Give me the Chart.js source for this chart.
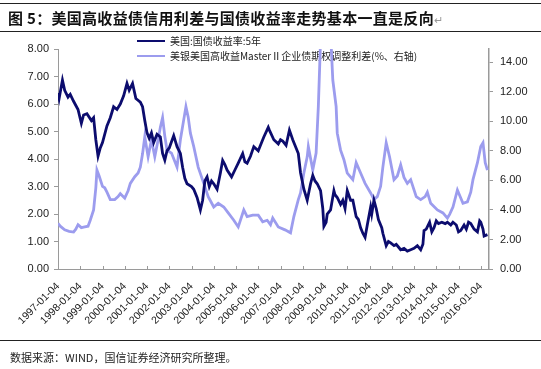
<!DOCTYPE html>
<html>
<head>
<meta charset="utf-8">
<script src="https://cdn.jsdelivr.net/npm/chart.js@4.4.0/dist/chart.umd.min.js"></script>
<style>
  body { margin: 0; background: #fff; }
  #wrap { position: relative; width: 541px; height: 369px; overflow: hidden; }
  #c { position: absolute; left: 0; top: 0; }
  .rule { position: absolute; left: 0; width: 541px; height: 0; border-top: 1.5px solid #222; }
  #title { position: absolute; left: 8px; top: 7px; font: bold 15px "Noto Sans CJK SC", sans-serif; letter-spacing: 0.3px; color: #111; white-space: nowrap; }
  #title span { font-weight: normal; font-size: 11px; color: #999; }
  #foot { position: absolute; left: 10px; top: 349px; font: 11px "Noto Sans CJK SC", sans-serif; color: #222; white-space: nowrap; }
</style>
</head>
<body>
<div id="wrap">
  <canvas id="c" width="541" height="369"></canvas>
  <div class="rule" style="top:3px"></div>
  <div id="title">图 5：美国高收益债信用利差与国债收益率走势基本一直是反向<span>↵</span></div>
  <div class="rule" style="top:31px"></div>
  <div class="rule" style="top:340px"></div>
  <div id="foot">数据来源：WIND，国信证券经济研究所整理。</div>
</div>
<script>
// 美国:国债收益率:5年 (left axis), time as decimal year
var yieldDates = [1997.0, 1997.05, 1997.2, 1997.3, 1997.45, 1997.55, 1997.7, 1997.9, 1998.05, 1998.15, 1998.3, 1998.5, 1998.6, 1998.7, 1998.8, 1998.9,
  1999.0, 1999.2, 1999.35, 1999.5, 1999.65, 1999.8, 1999.95, 2000.1, 2000.2, 2000.35, 2000.5, 2000.7, 2000.8, 2000.9,
  2001.0, 2001.1, 2001.2, 2001.3, 2001.45, 2001.6, 2001.7, 2001.8, 2001.9, 2002.0, 2002.2, 2002.35, 2002.5, 2002.6, 2002.7, 2002.8,
  2003.0, 2003.1, 2003.25, 2003.4, 2003.5, 2003.6, 2003.7, 2003.8, 2003.9, 2004.0, 2004.15, 2004.3, 2004.4, 2004.5, 2004.6, 2004.8, 2004.95,
  2005.1, 2005.3, 2005.4, 2005.5, 2005.65, 2005.8, 2006.0, 2006.15, 2006.25, 2006.45, 2006.5, 2006.7, 2006.9,
  2007.0, 2007.1, 2007.25, 2007.4, 2007.55, 2007.7, 2007.8, 2007.9, 2008.05, 2008.2, 2008.35, 2008.45, 2008.55, 2008.65, 2008.8, 2008.9, 2008.95,
  2009.05, 2009.1, 2009.25, 2009.4, 2009.45, 2009.55, 2009.7, 2009.8, 2009.9, 2010.0, 2010.15, 2010.25, 2010.4, 2010.5, 2010.6, 2010.7, 2010.8, 2010.9,
  2011.05, 2011.1, 2011.2, 2011.3, 2011.4, 2011.55, 2011.6, 2011.75, 2011.85, 2011.95, 2012.1, 2012.2, 2012.3, 2012.4, 2012.55, 2012.7, 2012.85,
  2013.0, 2013.15, 2013.3, 2013.4, 2013.45, 2013.55, 2013.7, 2013.8, 2013.9, 2014.0, 2014.1, 2014.25, 2014.4, 2014.5, 2014.65, 2014.75, 2014.9,
  2015.0, 2015.1, 2015.25, 2015.35, 2015.45, 2015.55, 2015.7, 2015.85, 2015.95, 2016.0, 2016.1, 2016.15, 2016.3];
var yieldValues = [6.4, 6.2, 6.87, 6.5, 6.25, 6.35, 6.1, 5.8, 5.3, 5.6, 5.65, 5.4, 5.5, 4.7, 4.1, 4.4,
  4.6, 5.2, 5.5, 5.9, 5.8, 6.0, 6.3, 6.75, 6.5, 6.75, 6.2, 6.07, 5.9, 5.4,
  4.95, 4.75, 4.95, 4.6, 4.9, 4.8, 4.2, 3.96, 4.3, 4.4, 4.85, 4.45, 4.2, 3.7, 3.3, 3.1,
  3.0, 2.9, 2.6, 2.15, 2.5, 3.2, 3.35, 3.0, 3.2, 3.1, 2.9, 3.5, 3.95, 3.8, 3.6, 3.35, 3.6,
  3.85, 4.2, 3.9, 3.85, 4.1, 4.45, 4.3, 4.6, 4.8, 5.15, 5.05, 4.7, 4.55,
  4.7, 4.65, 4.5, 5.05, 4.7, 4.4, 4.2, 3.5, 2.9, 2.5, 3.1, 3.4, 3.2, 3.1, 2.85, 2.2, 1.55,
  1.7, 2.0, 2.15, 2.85, 2.7, 2.6, 2.35, 2.5, 2.2, 2.85, 2.5, 2.5, 1.9, 1.8, 1.5, 1.3, 1.15, 1.6,
  2.25, 2.0, 2.5, 2.2, 1.8, 1.5, 1.3, 0.85, 1.0, 0.95, 0.85, 0.9, 0.8, 0.7, 0.75, 0.65, 0.7,
  0.75, 0.85, 0.7, 0.9, 1.4, 1.45, 1.7, 1.35, 1.5, 1.75, 1.65, 1.7, 1.65, 1.7, 1.6, 1.7, 1.6,
  1.35, 1.4, 1.6, 1.45, 1.7, 1.65, 1.45, 1.35, 1.75, 1.7, 1.45, 1.2, 1.25];

// 美银美国高收益Master II企业债期权调整利差 (right axis)
var spreadDates = [1997.0, 1997.1, 1997.3, 1997.5, 1997.7, 1997.8, 1997.9, 1998.05, 1998.2, 1998.35, 1998.45, 1998.6, 1998.7, 1998.75, 1998.85,
  1999.0, 1999.1, 1999.2, 1999.35, 1999.55, 1999.7, 1999.8, 2000.0, 2000.15, 2000.25, 2000.45, 2000.6, 2000.7, 2000.8, 2000.9,
  2001.05, 2001.2, 2001.35, 2001.5, 2001.6, 2001.7, 2001.8, 2001.9, 2002.1, 2002.35, 2002.5, 2002.65, 2002.75, 2002.85, 2002.95,
  2003.1, 2003.3, 2003.55, 2003.75, 2004.0, 2004.2, 2004.45, 2004.65, 2004.9, 2005.1, 2005.35, 2005.5, 2005.75,
  2006.0, 2006.2, 2006.4, 2006.55, 2006.65, 2006.9, 2007.2, 2007.45, 2007.6, 2007.8, 2007.9,
  2008.05, 2008.2, 2008.25, 2008.45, 2008.6, 2008.7, 2008.8, 2008.9, 2008.95, 2009.1, 2009.25, 2009.35, 2009.5, 2009.55, 2009.7, 2009.85,
  2010.0, 2010.25, 2010.4, 2010.6, 2010.8, 2011.05, 2011.2, 2011.35, 2011.5, 2011.6, 2011.75, 2011.9,
  2012.1, 2012.25, 2012.4, 2012.55, 2012.7, 2012.85, 2013.1, 2013.3, 2013.5, 2013.6, 2013.75,
  2014.05, 2014.3, 2014.5, 2014.6, 2014.75, 2014.95, 2015.2, 2015.4, 2015.55, 2015.65, 2015.85, 2016.0, 2016.1, 2016.2, 2016.3];
var spreadValues = [3.1, 2.9, 2.65, 2.55, 2.5, 2.7, 3.0, 2.8, 2.85, 2.9, 3.3, 4.0, 5.5, 6.7, 6.3,
  5.6, 5.5, 5.2, 4.7, 4.7, 4.9, 5.1, 4.8, 5.3, 5.8, 6.25, 6.5, 6.9, 7.8, 8.95,
  7.6, 8.75, 7.6, 8.75, 9.6, 10.25, 9.0, 8.05, 7.85, 6.9, 8.75, 10.1, 11.0, 10.3, 9.2,
  8.3, 6.9, 5.8, 4.9, 4.2, 4.45, 4.2, 3.8, 3.3, 2.85, 4.0, 3.55, 3.65,
  3.65, 3.2, 3.3, 3.0, 3.45, 2.85, 2.65, 2.45, 3.55, 4.7, 5.15,
  6.5, 7.6, 8.3, 6.7, 7.85, 11.0, 15.5, 18.5, 19.5, 18.0, 16.0, 12.8, 11.0, 9.2, 8.05, 7.4,
  6.5, 6.05, 7.2, 6.5, 5.8, 5.15, 4.7, 4.9, 5.6, 6.9, 8.55, 7.6,
  6.05, 6.3, 7.05, 6.2, 5.8, 6.05, 4.9, 4.7, 4.9, 5.2, 4.45,
  4.0, 3.8, 3.45, 3.7, 4.2, 5.35, 4.45, 4.55, 5.2, 6.05, 7.2, 8.3, 8.55, 7.2, 6.7];

var yearTicks = [1997, 1998, 1999, 2000, 2001, 2002, 2003, 2004, 2005, 2006, 2007, 2008, 2009, 2010, 2011, 2012, 2013, 2014, 2015, 2016];
var leftTicks = [0, 1, 2, 3, 4, 5, 6, 7, 8];
var rightTicks = [0, 2, 4, 6, 8, 10, 12, 14];

function pairs(xs, ys) {
  return xs.map(function (x, i) { return { x: x, y: ys[i] }; });
}

var tickFont = { family: '"Liberation Sans", Arial, sans-serif', size: 11 };
var axisColor = '#9a9a9a';

// legend drawn under the lines, plus small inside ticks on the x axis
var overlay = {
  id: 'overlay',
  beforeDatasetsDraw: function (chart) {
    var ctx = chart.ctx;
    ctx.save();
    ctx.font = '10px "Noto Sans CJK SC", sans-serif';
    ctx.textBaseline = 'middle';
    chart.data.datasets.forEach(function (ds, i) {
      var y = 41 + i * 15;
      ctx.strokeStyle = ds.borderColor;
      ctx.lineWidth = 2;
      ctx.beginPath();
      ctx.moveTo(137, y);
      ctx.lineTo(165, y);
      ctx.stroke();
      ctx.fillStyle = '#222';
      ctx.fillText(ds.label, 170, y);
    });
    ctx.restore();
  },
  afterDraw: function (chart) {
    var ctx = chart.ctx, xs = chart.scales.x, b = chart.chartArea.bottom;
    ctx.save();
    ctx.strokeStyle = axisColor;
    ctx.lineWidth = 1;
    yearTicks.forEach(function (yr) {
      var px = Math.round(xs.getPixelForValue(yr)) + 0.5;
      ctx.beginPath();
      ctx.moveTo(px, b);
      ctx.lineTo(px, b - 3);
      ctx.stroke();
    });
    ctx.restore();
  }
};

new Chart(document.getElementById('c'), {
  type: 'line',
  data: {
    datasets: [{
      label: '美国:国债收益率:5年',
      data: pairs(yieldDates, yieldValues),
      yAxisID: 'y',
      borderColor: '#0c0c6e',
      borderWidth: 2.8,
      pointRadius: 0,
      tension: 0
    }, {
      label: '美银美国高收益MasterⅡ企业债期权调整利差(%、右轴)',
      data: pairs(spreadDates, spreadValues),
      yAxisID: 'y1',
      borderColor: '#9c9cee',
      borderWidth: 2.8,
      pointRadius: 0,
      tension: 0
    }]
  },
  options: {
    responsive: false,
    animation: false,
    layout: { padding: { top: 49, left: 0, right: 0, bottom: 0 } },
    plugins: { legend: { display: false }, tooltip: { enabled: false } },
    scales: {
      x: {
        type: 'linear',
        min: 1997,
        max: 2016.37,
        afterBuildTicks: function (s) { s.ticks = yearTicks.map(function (v) { return { value: v }; }); },
        afterFit: function (s) { s.height = 100; },
        ticks: {
          autoSkip: false,
          maxRotation: 45,
          minRotation: 45,
          padding: 11,
          font: { family: '"Liberation Sans", Arial, sans-serif', size: 10.5 },
          color: '#222',
          callback: function (v) { return v + '-01-04'; }
        },
        grid: { drawOnChartArea: false, drawTicks: false },
        border: { color: axisColor, width: 1 }
      },
      y: {
        position: 'left',
        min: 0,
        max: 8,
        afterBuildTicks: function (s) { s.ticks = leftTicks.map(function (v) { return { value: v }; }); },
        afterFit: function (s) { s.width = 58; },
        ticks: { font: tickFont, color: '#222', padding: 5, callback: function (v) { return v.toFixed(2); } },
        grid: { drawOnChartArea: false, tickLength: 4, color: axisColor },
        border: { color: axisColor, width: 1 }
      },
      y1: {
        position: 'right',
        min: 0,
        max: 14.9,
        afterBuildTicks: function (s) { s.ticks = rightTicks.map(function (v) { return { value: v }; }); },
        afterFit: function (s) { s.width = 52; },
        ticks: { font: tickFont, color: '#222', padding: 7, callback: function (v) { return v.toFixed(2); } },
        grid: { drawOnChartArea: false, tickLength: 4, color: axisColor },
        border: { color: axisColor, width: 1.5 }
      }
    }
  },
  plugins: [overlay]
});
</script>
</body>
</html>
